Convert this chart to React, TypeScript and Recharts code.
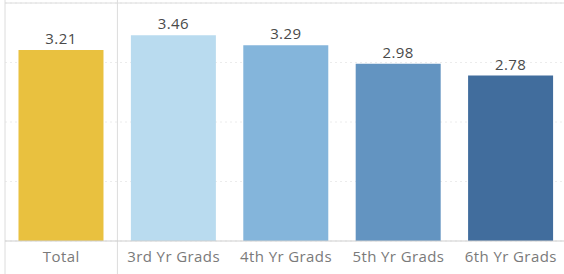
import { BarChart, Bar, XAxis, YAxis, CartesianGrid, ReferenceLine, LabelList, Cell } from 'recharts';

const categories = ['Total', '3rd Yr Grads', '4th Yr Grads', '5th Yr Grads', '6th Yr Grads'];
const averages = [3.21, 3.46, 3.29, 2.98, 2.78];
const barColors = ['#E9C13F', '#B9DBEF', '#84B5DB', '#6394C1', '#416D9D'];
const yTicks = [0, 1, 2, 3, 4];

const data = categories.map((name, i) => ({ name, avg: averages[i] }));

const fullHeightLine = (props: any) => (
  <line x1={props.x1} x2={props.x2} y1={0} y2={274} stroke="#dcdcdc" strokeWidth={1} />
);

export default function App() {
  return (
    <div style={{ position: 'absolute', left: 0, top: 0, width: 564, height: 274, overflow: 'hidden', background: '#fff' }}>
      <BarChart
        width={570}
        height={274}
        data={data}
        margin={{ top: 3, right: 3, bottom: 0, left: 5 }}
        barCategoryGap="12%"
        style={{ fontFamily: 'Open Sans, sans-serif' }}
      >
        <CartesianGrid vertical={false} stroke="#ececec" strokeDasharray="2 3" />
        <YAxis hide domain={[0, 4]} ticks={yTicks} />
        <XAxis
          dataKey="name"
          height={33}
          tickLine={false}
          tickSize={0}
          tickMargin={10}
          axisLine={{ stroke: '#cfcfcf' }}
          tick={{ fill: '#7a7a7a', fontSize: 15, letterSpacing: 0.4 }}
          interval={0}
        />
        <ReferenceLine y={4} stroke="#dcdcdc" />
        <ReferenceLine x="Total" position="start" shape={fullHeightLine} />
        <ReferenceLine x="Total" position="end" shape={fullHeightLine} />
        <Bar dataKey="avg" isAnimationActive={false}>
          {data.map((d, i) => (
            <Cell key={d.name} fill={barColors[i]} />
          ))}
          <LabelList dataKey="avg" position="top" offset={6} fill="#4a4a4a" fontSize={15} letterSpacing={0.4} />
        </Bar>
      </BarChart>
    </div>
  );
}
